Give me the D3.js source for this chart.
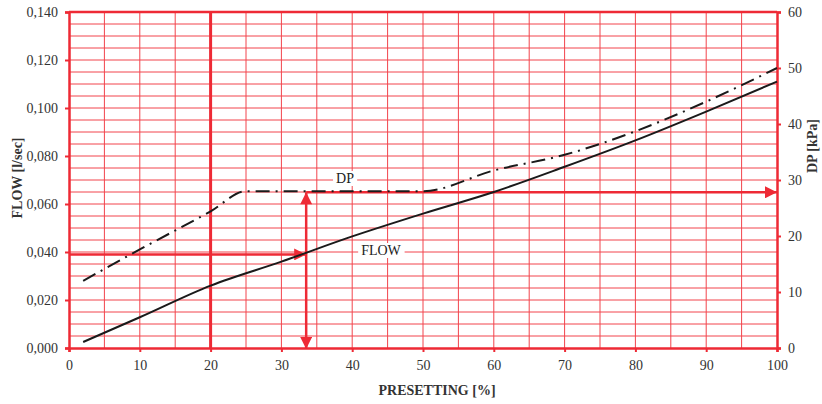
<!DOCTYPE html>
<html lang="en">
<head>
  <meta charset="UTF-8">
  <title>Flow / DP vs presetting</title>
  <style>
    body { margin: 0; background: #fff; }
  </style>
</head>
<body>
  <svg width="822" height="404"></svg>
  <script src="https://d3js.org/d3.v7.min.js"></script>
  <script>
    // presetting [%] -> flow [l/sec]
    var flowX = [2, 10, 20, 30, 40, 50, 60, 70, 80, 90, 100];
    var flowY = [0.0025, 0.0128, 0.026, 0.036, 0.0465, 0.056, 0.065, 0.0755, 0.0865, 0.0985, 0.111];

    // presetting [%] -> DP [kPa]
    var dpX = [2, 10, 20, 25, 50, 60, 70, 80, 90, 100];
    var dpY = [12, 17.6, 24.4, 28, 28, 31.7, 34.5, 38.7, 44, 50];

    var xTicks = [0, 10, 20, 30, 40, 50, 60, 70, 80, 90, 100];
    var flowTicks = [0, 0.02, 0.04, 0.06, 0.08, 0.1, 0.12, 0.14];
    var dpTicks = [0, 10, 20, 30, 40, 50, 60];

    // worked reading example drawn on the chart
    var markPreset = 20;
    var readPreset = 33.5;
    var readFlow = 0.039;
    var readDp = 27.8;

    var svg = d3.select("svg"),
        margin = {top: 12, right: 45, bottom: 56, left: 69},
        width = 777 - margin.left,
        height = 348 - margin.top;

    var red = "#ee2a35", grid = "#f2444c";
    var serif = '"Liberation Serif", "Times New Roman", serif';

    var x = d3.scaleLinear().domain([0, 100]).range([0, width]),
        y = d3.scaleLinear().domain([0, 0.14]).range([height, 0]),
        y2 = d3.scaleLinear().domain([0, 60]).range([height, 0]);

    var g = svg.append("g").attr("transform", "translate(" + margin.left + "," + margin.top + ")");

    // grid
    g.append("g").selectAll("line")
      .data(d3.range(5, 100, 5))
      .enter().append("line")
      .attr("x1", d => x(d)).attr("x2", d => x(d))
      .attr("y1", 0).attr("y2", height)
      .attr("stroke", grid).attr("stroke-width", 1);

    g.append("g").selectAll("line")
      .data(d3.range(1, 28))
      .enter().append("line")
      .attr("x1", 0).attr("x2", width)
      .attr("y1", d => y(d * 0.005)).attr("y2", d => y(d * 0.005))
      .attr("stroke", grid).attr("stroke-width", 1);

    // axes
    var fmt = d => d.toFixed(3).replace(".", ",");

    var xAxis = g.append("g")
      .attr("transform", "translate(0," + height + ")")
      .call(d3.axisBottom(x).tickValues(xTicks).tickSize(4).tickPadding(8));
    var yAxis = g.append("g")
      .call(d3.axisLeft(y).tickValues(flowTicks).tickFormat(fmt).tickSize(4).tickPadding(7));
    var yAxis2 = g.append("g")
      .attr("transform", "translate(" + width + ",0)")
      .call(d3.axisRight(y2).tickValues(dpTicks).tickSize(4).tickPadding(7));

    [xAxis, yAxis, yAxis2].forEach(a => {
      a.attr("font-family", null);
      a.select(".domain").attr("stroke", red).attr("stroke-width", 2.5);
      a.selectAll(".tick line").attr("stroke", red).attr("stroke-width", 2);
      a.selectAll(".tick text").attr("fill", "#333")
        .style("font-family", serif).style("font-size", "14px");
    });

    g.append("line")
      .attr("x1", 0).attr("x2", width).attr("y1", y(0.14)).attr("y2", y(0.14))
      .attr("stroke", red).attr("stroke-width", 2.5);

    // axis titles
    function title(txt, tx, ty, rot) {
      svg.append("text")
        .attr("transform", "translate(" + tx + "," + ty + ")" + (rot ? " rotate(-90)" : ""))
        .attr("text-anchor", "middle")
        .style("font-family", serif).style("font-size", "14px").style("font-weight", "bold")
        .attr("fill", "#333")
        .text(txt);
    }
    title("FLOW [l/sec]", 22, 178, true);
    title("DP [kPa]", 817, 146, true);
    title("PRESETTING [%]", 437, 395, false);

    // red reading lines + arrows
    var defs = svg.append("defs");
    defs.append("marker")
      .attr("id", "arrow")
      .attr("viewBox", "0 0 10 10")
      .attr("refX", 10).attr("refY", 5)
      .attr("markerWidth", 14).attr("markerHeight", 12)
      .attr("markerUnits", "userSpaceOnUse")
      .attr("orient", "auto-start-reverse")
      .append("path").attr("d", "M0,0 L10,5 L0,10 Z").attr("fill", red);

    g.append("line")
      .attr("x1", x(markPreset)).attr("x2", x(markPreset))
      .attr("y1", 0).attr("y2", height)
      .attr("stroke", red).attr("stroke-width", 3);

    g.append("line")
      .attr("x1", 0).attr("x2", x(readPreset))
      .attr("y1", y(readFlow)).attr("y2", y(readFlow))
      .attr("stroke", red).attr("stroke-width", 2.5)
      .attr("marker-end", "url(#arrow)");

    g.append("line")
      .attr("x1", x(readPreset)).attr("x2", x(readPreset))
      .attr("y1", y2(0) + 1).attr("y2", y2(readDp))
      .attr("stroke", red).attr("stroke-width", 2.5)
      .attr("marker-start", "url(#arrow)")
      .attr("marker-end", "url(#arrow)");

    g.append("line")
      .attr("x1", x(readPreset)).attr("x2", x(100))
      .attr("y1", y2(readDp)).attr("y2", y2(readDp))
      .attr("stroke", red).attr("stroke-width", 2.5)
      .attr("marker-end", "url(#arrow)");

    // curves
    var flowLine = d3.line().curve(d3.curveMonotoneX)
      .x((d, i) => x(flowX[i])).y(d => y(d));
    var dpLine = d3.line().curve(d3.curveMonotoneX)
      .x((d, i) => x(dpX[i])).y(d => y2(d));

    g.append("path")
      .attr("d", flowLine(flowY))
      .attr("fill", "none").attr("stroke", "#1a1a1a").attr("stroke-width", 2);

    g.append("path")
      .attr("d", dpLine(dpY))
      .attr("fill", "none").attr("stroke", "#1a1a1a").attr("stroke-width", 2)
      .attr("stroke-dasharray", "14,6,2,6");

    // curve labels
    function label(txt, cx, cy) {
      var t = svg.append("text")
        .attr("x", cx).attr("y", cy)
        .attr("text-anchor", "middle")
        .style("font-family", serif).style("font-size", "14px").attr("fill", "#222")
        .text(txt);
      var b = t.node().getBBox();
      svg.insert("rect", function() { return t.node(); })
        .attr("x", b.x - 3).attr("y", b.y).attr("width", b.width + 6).attr("height", b.height)
        .attr("fill", "#fff");
    }
    label("DP", 345, 183);
    label("FLOW", 381, 255);
  </script>
</body>
</html>
